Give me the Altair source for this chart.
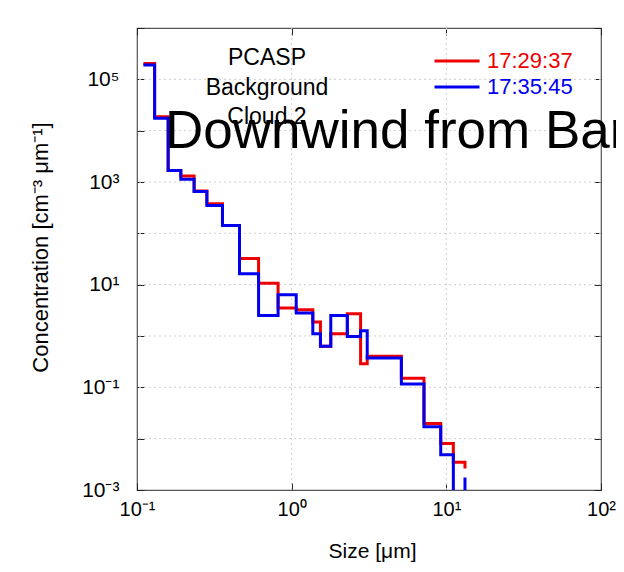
import json
import altair as alt
import pandas as pd

# ---- data (log-log stairs) ----
size_edges = [0.11, 0.13, 0.159, 0.192, 0.234, 0.283, 0.357, 0.46, 0.611, 0.817,
              1.07, 1.37, 1.535, 1.79, 2.29, 2.79, 3.08, 5.12, 7.17, 9.2, 11.1, 13.2]
conc_172937 = [2.03e5, 1.87e4, 1670, 1310, 671, 375, 142, 32.4, 10.7, 3.51, 3.25, 1.87,
               0.628, 1.11, 2.72, 0.289, 0.401, 0.151, 0.0197, 0.00803, 0.00348, 0.00262]
# 1e-5 = below the axis floor (empty bin)
conc_173545 = [1.9e5, 1.74e4, 1670, 1133, 650, 347, 142, 16.3, 2.52, 6.36, 2.80, 1.11,
               0.628, 2.52, 0.982, 1.27, 0.373, 0.116, 0.0170, 0.00484, 1e-5, 0.00175]
series_names = ["17:29:37", "17:35:45"]
series_colors = ["#ee0000", "#0000ee"]
x_tick_values = [0.1, 1, 10, 100]
x_tick_labels = ["10⁻¹", "10⁰", "10¹", "10²"]
y_tick_values = [1e-3, 1e-2, 1e-1, 1, 10, 100, 1e3, 1e4, 1e5, 1e6]
y_tick_labels = ["10⁻³", "", "10⁻¹", "", "10¹", "", "10³", "", "10⁵", ""]
x_grid_values = [1, 10]
y_grid_values = [1e-2, 1e-1, 1, 10, 100, 1e3, 1e4, 1e5]
info_lines = ["PCASP", "Background", "Cloud 2"]
overlay_text = "Downwind from Bar"
x_title = "Size [μm]"
y_title = "Concentration [cm⁻³ μm⁻¹]"

FONT = "Liberation Sans"

red_df = pd.DataFrame({"size": size_edges, "conc": conc_172937, "series": series_names[0]})
blue_df = pd.DataFrame({"size": size_edges, "conc": conc_173545, "series": series_names[1]})

xs = alt.Scale(type="log", domain=[0.1, 100], nice=False)
ys = alt.Scale(type="log", domain=[1e-3, 1e6], nice=False)

x_label_expr = f"{json.dumps(x_tick_labels, ensure_ascii=False)}[round(log(datum.value)/LN10) + 1]"
y_label_expr = f"{json.dumps(y_tick_labels, ensure_ascii=False)}[round(log(datum.value)/LN10) + 3]"
label_color_expr = f"{json.dumps(series_colors)}[indexof({json.dumps(series_names)}, datum.value)]"

legend = alt.Legend(
    title=None, orient="none", legendX=296, legendY=20,
    symbolType="stroke", symbolSize=2025, symbolStrokeWidth=3,
    clipHeight=26, rowPadding=0, padding=0,
    labelFontSize=22, labelFont=FONT, labelOffset=6,
    labelColor=alt.ExprRef(label_color_expr),
)
color = alt.Color("series:N", scale=alt.Scale(domain=series_names, range=series_colors),
                  legend=legend)

tick_common = dict(tickSize=7, offset=-7, domain=False, tickColor="#222", tickWidth=1,
                   labelFlush=False, labelOverlap=False, grid=False)

x_axis_main = alt.Axis(values=x_tick_values, labelExpr=x_label_expr, title=x_title,
                       labelFontSize=20, labelPadding=9, labelColor="black",
                       titleFontSize=21, titleFontWeight="normal", titleColor="black",
                       titleX=235, titleY=74, titleBaseline="alphabetic",
                       **tick_common)
y_axis_main = alt.Axis(values=y_tick_values, labelExpr=y_label_expr, title=y_title,
                       labelFontSize=21, labelPadding=18, labelColor="black",
                       titleFontSize=22, titleFontWeight="normal", titleColor="black",
                       titleX=-97, titleY=219, titleBaseline="alphabetic", titleAlign="center",
                       titleAngle=270,
                       **tick_common)
x_axis_top = alt.Axis(values=x_tick_values, orient="top", labels=False, title=None,
                      **tick_common)
y_axis_right = alt.Axis(values=y_tick_values, orient="right", labels=False, title=None,
                        **tick_common)

grid_style = dict(color="#cfcfcf", strokeWidth=1, strokeDash=[2, 3])
x_grid = alt.Chart(pd.DataFrame({"g": x_grid_values})).mark_rule(**grid_style).encode(
    x=alt.X("g:Q", scale=xs, axis=None)
)
y_grid = alt.Chart(pd.DataFrame({"g": y_grid_values})).mark_rule(**grid_style).encode(
    y=alt.Y("g:Q", scale=ys, axis=None)
)

red_line = alt.Chart(red_df).mark_line(
    interpolate="step-after", strokeWidth=3, clip=True
).encode(
    x=alt.X("size:Q", scale=xs, axis=x_axis_main),
    y=alt.Y("conc:Q", scale=ys, axis=y_axis_main),
    color=color,
)
blue_line = alt.Chart(blue_df).mark_line(
    interpolate="step-after", strokeWidth=3, clip=True
).encode(
    x=alt.X("size:Q", scale=xs, axis=x_axis_top),
    y=alt.Y("conc:Q", scale=ys, axis=y_axis_right),
    color=color,
)

info = alt.Chart(alt.Data(values=[{}])).mark_text(
    text=info_lines, font=FONT, fontSize=23, lineHeight=29.5,
    align="center", baseline="middle", color="black",
).encode(x=alt.value(130), y=alt.value(30))

overlay = alt.Chart(alt.Data(values=[{}])).mark_text(
    text=overlay_text, font=FONT, fontSize=53, align="left", baseline="alphabetic",
    color="black",
).encode(x=alt.value(28), y=alt.value(120))

chart = alt.layer(x_grid, y_grid, red_line, blue_line, info, overlay).resolve_axis(
    x="independent", y="independent"
).properties(
    width=464, height=462,
    autosize=alt.AutoSizeParams(type="none"),
    padding={"left": 129, "top": 20, "right": 15, "bottom": 74},
).configure(
    background="white", font=FONT,
).configure_view(
    stroke="#555555", strokeWidth=1.2,
)

chart.save("out.html", embed_options={"renderer": "svg", "actions": False})
